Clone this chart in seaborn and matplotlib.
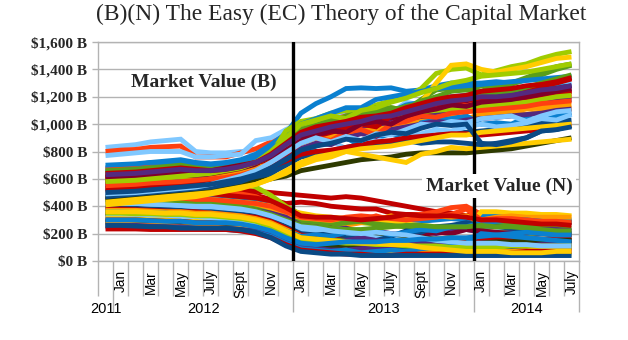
import numpy as np
import pandas as pd
import matplotlib
matplotlib.use('Agg')
import matplotlib.pyplot as plt
import seaborn as sns
from matplotlib.transforms import blended_transform_factory

# ---------------- categories ----------------
month_labels = ['', 'Jan', '', 'Mar', '', 'May', '', 'July', '', 'Sept', '', 'Nov', '',
                'Jan', '', 'Mar', '', 'May', '', 'July', '', 'Sept', '', 'Nov', '',
                'Jan', '', 'Mar', '', 'May', '', 'July']
year_labels = ['2011', '2012', '2013', '2014']
year_months = [1, 12, 12, 7]
y_ticks = [0, 200, 400, 600, 800, 1000, 1200, 1400, 1600]
y_tick_labels = ['$0 B', '$200 B', '$400 B', '$600 B', '$800 B', '$1,000 B',
                 '$1,200 B', '$1,400 B', '$1,600 B']
title = '(B)(N) The Easy (EC) Theory of the Capital Market'
label_b = 'Market Value (B)'
label_n = 'Market Value (N)'

# ---------------- Market Value (B) series ($ billions) ----------------
B01 = [830, 840, 850, 870, 880, 890, 800, 790, 790, 800, 800, 850, 880, 960, 1010, 990, 1060, 1040, 1100, 1080, 1160, 1140, 1200, 1190, 1210, 1190, 1210, 1230, 1240, 1260, 1280, 1290]
B02 = [800, 810, 815, 830, 835, 840, 760, 760, 760, 790, 820, 870, 920, 990, 1000, 1020, 1040, 1010, 1060, 1080, 1100, 1120, 1110, 1130, 1140, 1150, 1160, 1170, 1190, 1200, 1210, 1220]
B03 = [770, 780, 790, 800, 800, 800, 760, 760, 770, 780, 880, 900, 960, 1010, 1030, 1050, 1070, 1060, 1080, 1090, 1130, 1150, 1160, 1180, 1190, 1200, 1220, 1240, 1250, 1270, 1280, 1300]
B04 = [680, 690, 700, 720, 730, 740, 720, 710, 720, 740, 780, 850, 930, 1080, 1150, 1200, 1260, 1265, 1260, 1265, 1240, 1250, 1280, 1300, 1300, 1300, 1310, 1300, 1320, 1330, 1320, 1340]
B05 = [670, 675, 680, 690, 700, 700, 690, 680, 690, 700, 740, 800, 880, 980, 1000, 1030, 1060, 1080, 1100, 1100, 1050, 1100, 1120, 1150, 1150, 1140, 1150, 1170, 1180, 1170, 1190, 1200]
B06 = [650, 660, 670, 680, 690, 690, 660, 650, 660, 670, 700, 760, 850, 940, 970, 1000, 1030, 1010, 1060, 1090, 1140, 1160, 1180, 1200, 1210, 1220, 1230, 1230, 1250, 1260, 1270, 1280]
B07 = [640, 650, 650, 660, 670, 680, 650, 640, 640, 650, 680, 720, 800, 900, 960, 1010, 1000, 1080, 1060, 1120, 1100, 1180, 1250, 1260, 1250, 1240, 1280, 1290, 1330, 1360, 1400, 1430]
B08 = [590, 595, 600, 600, 600, 600, 600, 600, 590, 600, 650, 780, 950, 1020, 1040, 1080, 1100, 1090, 1140, 1170, 1200, 1260, 1370, 1400, 1410, 1360, 1390, 1420, 1440, 1480, 1510, 1530]
B09 = [620, 630, 640, 640, 650, 650, 640, 630, 630, 640, 660, 700, 760, 850, 900, 950, 1000, 1020, 1050, 1060, 1100, 1160, 1300, 1430, 1440, 1400, 1380, 1400, 1420, 1450, 1480, 1490]
B10 = [610, 620, 625, 630, 640, 640, 620, 610, 620, 640, 670, 720, 810, 920, 960, 1000, 1060, 1080, 1120, 1120, 1100, 1170, 1200, 1240, 1250, 1280, 1290, 1300, 1340, 1380, 1420, 1440]
B11 = [600, 605, 610, 620, 625, 630, 620, 615, 620, 640, 680, 740, 820, 900, 950, 930, 1000, 1050, 1020, 1070, 1040, 1110, 1150, 1180, 1170, 1200, 1210, 1200, 1230, 1250, 1260, 1280]
B12 = [580, 585, 590, 600, 610, 620, 620, 630, 650, 670, 700, 760, 840, 880, 930, 960, 940, 1010, 990, 1040, 1080, 1060, 1110, 1130, 1100, 1150, 1180, 1160, 1200, 1190, 1230, 1250]
B13 = [570, 575, 580, 580, 585, 590, 590, 600, 620, 640, 660, 700, 760, 840, 870, 900, 940, 960, 980, 1000, 1030, 1060, 1080, 1100, 1100, 1120, 1140, 1160, 1170, 1190, 1220, 1240]
B14 = [560, 565, 570, 575, 580, 585, 590, 600, 610, 620, 650, 700, 780, 860, 900, 920, 960, 950, 1000, 1010, 1000, 1040, 1070, 1080, 1100, 1110, 1120, 1130, 1140, 1160, 1170, 1180]
B15 = [520, 525, 530, 540, 550, 560, 580, 600, 620, 640, 670, 720, 790, 840, 880, 860, 920, 950, 900, 980, 1010, 990, 1050, 1060, 1040, 1070, 1080, 1090, 1110, 1120, 1130, 1140]
B16 = [500, 505, 510, 520, 530, 540, 550, 560, 580, 610, 660, 740, 830, 880, 890, 910, 930, 950, 960, 980, 1000, 1020, 1030, 1040, 1040, 1050, 1060, 1080, 1070, 1090, 1100, 1110]
B17 = [590, 590, 590, 590, 590, 590, 590, 590, 580, 570, 560, 620, 760, 980, 1000, 1020, 1040, 1050, 1060, 1070, 1080, 1090, 1100, 1110, 1120, 1130, 1140, 1150, 1160, 1180, 1200, 1210]
B18 = [540, 545, 550, 560, 570, 580, 570, 570, 580, 600, 620, 660, 720, 790, 840, 880, 900, 840, 900, 930, 890, 1010, 1030, 1040, 1060, 1000, 1010, 1000, 1050, 1020, 1060, 1080]
B19 = [450, 455, 460, 470, 480, 490, 500, 520, 540, 560, 600, 640, 700, 760, 780, 800, 820, 840, 860, 870, 880, 900, 920, 930, 940, 950, 960, 980, 1000, 1010, 1020, 1030]
B20 = [480, 490, 500, 510, 520, 530, 540, 560, 580, 600, 640, 700, 760, 820, 860, 880, 820, 850, 890, 860, 910, 930, 960, 950, 980, 1000, 980, 990, 1010, 1040, 1030, 1070]
B21 = [460, 470, 480, 490, 500, 510, 520, 530, 540, 560, 580, 600, 620, 660, 680, 700, 720, 740, 750, 760, 780, 790, 790, 790, 790, 800, 810, 820, 840, 860, 880, 900]
B22 = [430, 440, 450, 460, 470, 480, 490, 500, 520, 540, 560, 600, 640, 700, 740, 760, 800, 780, 760, 740, 720, 780, 800, 830, 820, 830, 840, 850, 860, 870, 880, 890]
B23 = [470, 480, 490, 500, 510, 520, 530, 540, 560, 580, 620, 660, 700, 770, 800, 790, 830, 850, 840, 860, 880, 860, 870, 870, 860, 850, 860, 880, 900, 950, 960, 990]
B24 = [510, 515, 520, 530, 540, 550, 560, 570, 590, 610, 640, 700, 760, 820, 860, 850, 900, 930, 910, 960, 980, 1000, 1020, 1010, 1030, 1040, 1050, 1060, 1070, 1080, 1100, 1110]
B25 = [530, 535, 540, 545, 550, 555, 560, 580, 600, 620, 650, 690, 730, 780, 800, 810, 830, 850, 870, 880, 900, 910, 920, 930, 930, 920, 930, 940, 950, 960, 980, 1000]
B26 = [620, 620, 630, 640, 640, 650, 650, 660, 680, 700, 720, 740, 780, 860, 910, 940, 970, 1000, 980, 1060, 1090, 1100, 1150, 1140, 1180, 1180, 1200, 1220, 1250, 1280, 1300, 1330]
B27 = [700, 705, 710, 720, 720, 720, 700, 690, 700, 710, 760, 820, 880, 1000, 1040, 1080, 1120, 1120, 1180, 1200, 1220, 1240, 1260, 1270, 1280, 1290, 1300, 1310, 1320, 1330, 1340, 1350]
B28 = [660, 665, 670, 680, 690, 700, 680, 670, 680, 700, 720, 760, 860, 960, 990, 1030, 1050, 1060, 1090, 1100, 1130, 1150, 1170, 1190, 1200, 1220, 1230, 1240, 1270, 1300, 1330, 1360]
B29 = [550, 555, 560, 570, 575, 580, 590, 600, 610, 630, 660, 720, 800, 870, 900, 880, 940, 960, 920, 1000, 1020, 1060, 1050, 1080, 1090, 1100, 1110, 1120, 1130, 1150, 1160, 1170]
B30 = [610, 615, 620, 630, 640, 650, 650, 660, 680, 700, 720, 760, 810, 880, 920, 950, 940, 1000, 1020, 1000, 1060, 1090, 1110, 1140, 1130, 1160, 1170, 1180, 1200, 1220, 1240, 1260]
B31 = [490, 495, 500, 510, 520, 530, 540, 560, 590, 620, 660, 720, 790, 860, 900, 870, 910, 880, 930, 920, 960, 1000, 990, 1020, 1010, 1040, 1050, 1060, 1020, 1060, 1090, 1100]
B32 = [410, 420, 430, 440, 450, 460, 470, 490, 510, 530, 560, 600, 660, 720, 760, 780, 800, 820, 830, 840, 860, 880, 900, 920, 920, 940, 950, 960, 970, 980, 990, 1000]
B33 = [500, 505, 510, 520, 530, 540, 550, 560, 580, 600, 630, 680, 740, 810, 840, 860, 890, 880, 920, 940, 930, 970, 1000, 990, 1000, 860, 850, 870, 900, 950, 960, 980]
B34 = [580, 585, 590, 600, 610, 620, 630, 640, 660, 680, 720, 800, 900, 1000, 1030, 1060, 1040, 1100, 1120, 1160, 1190, 1230, 1260, 1300, 1320, 1350, 1360, 1370, 1380, 1400, 1420, 1440]
B35 = [640, 645, 650, 660, 670, 680, 670, 660, 670, 690, 720, 780, 860, 940, 980, 1000, 1020, 1050, 1060, 1080, 1120, 1150, 1180, 1200, 1210, 1240, 1250, 1260, 1280, 1290, 1310, 1340]
B36 = [630, 635, 640, 650, 660, 670, 660, 660, 670, 690, 720, 770, 850, 920, 950, 980, 1000, 1020, 1050, 1060, 1090, 1120, 1150, 1170, 1180, 1200, 1200, 1210, 1230, 1250, 1260, 1280]

# ---------------- Market Value (N) series ($ billions) ----------------
N01 = [550, 550, 545, 540, 540, 535, 530, 530, 520, 520, 510, 500, 490, 480, 470, 460, 470, 460, 440, 420, 400, 380, 360, 350, 330, 350, 340, 330, 320, 300, 290, 280]
N02 = [540, 540, 535, 530, 530, 520, 520, 510, 510, 500, 480, 450, 420, 430, 420, 400, 390, 380, 380, 350, 340, 340, 330, 320, 300, 320, 330, 320, 310, 300, 290, 280]
N03 = [520, 520, 520, 515, 515, 510, 510, 500, 500, 490, 470, 420, 340, 320, 300, 290, 310, 300, 330, 300, 330, 340, 360, 390, 400, 340, 330, 320, 310, 300, 300, 290]
N04 = [590, 590, 590, 590, 590, 590, 590, 590, 580, 570, 540, 480, 400, 340, 320, 300, 290, 280, 270, 260, 250, 240, 240, 230, 230, 220, 210, 210, 200, 200, 190, 190]
N05 = [500, 500, 495, 490, 490, 480, 480, 470, 460, 450, 430, 400, 350, 320, 300, 310, 290, 300, 270, 280, 300, 290, 300, 310, 300, 330, 340, 340, 330, 310, 300, 300]
N06 = [480, 480, 475, 470, 470, 460, 460, 450, 440, 430, 420, 400, 370, 350, 330, 320, 310, 300, 280, 290, 270, 260, 250, 240, 230, 360, 360, 350, 350, 340, 340, 330]
N07 = [460, 460, 455, 450, 450, 440, 430, 420, 420, 410, 400, 380, 340, 300, 280, 290, 260, 280, 300, 330, 300, 320, 330, 320, 330, 300, 320, 330, 320, 320, 320, 320]
N08 = [450, 450, 450, 445, 440, 440, 430, 420, 410, 400, 380, 350, 310, 280, 270, 260, 280, 290, 270, 260, 250, 250, 240, 240, 230, 250, 260, 270, 260, 250, 240, 240]
N09 = [430, 430, 425, 420, 420, 410, 400, 400, 390, 380, 370, 350, 320, 260, 250, 230, 240, 210, 220, 200, 190, 210, 200, 220, 230, 210, 200, 210, 220, 230, 230, 220]
N10 = [420, 420, 415, 410, 410, 400, 400, 390, 380, 370, 360, 330, 290, 250, 230, 240, 210, 200, 180, 190, 170, 190, 210, 200, 230, 220, 210, 200, 210, 200, 190, 190]
N11 = [410, 410, 405, 400, 400, 390, 390, 380, 370, 360, 350, 320, 280, 220, 210, 200, 200, 190, 180, 170, 180, 170, 160, 160, 150, 150, 150, 140, 140, 130, 130, 130]
N12 = [400, 400, 400, 395, 390, 390, 380, 370, 360, 350, 340, 320, 280, 230, 220, 200, 190, 180, 170, 160, 150, 130, 120, 110, 100, 90, 80, 80, 70, 70, 60, 60]
N13 = [390, 390, 385, 380, 380, 370, 360, 360, 350, 340, 330, 300, 250, 200, 190, 200, 170, 160, 150, 180, 220, 210, 250, 260, 280, 260, 250, 240, 230, 220, 210, 200]
N14 = [380, 380, 375, 370, 365, 360, 360, 350, 340, 330, 320, 290, 240, 190, 180, 160, 150, 140, 130, 120, 110, 110, 100, 100, 100, 110, 110, 100, 100, 100, 110, 100]
N15 = [370, 370, 370, 365, 360, 360, 350, 350, 340, 330, 310, 280, 230, 180, 160, 150, 140, 130, 130, 120, 120, 110, 110, 110, 110, 110, 110, 120, 120, 120, 110, 110]
N16 = [360, 360, 355, 350, 350, 340, 340, 330, 320, 310, 290, 260, 220, 180, 190, 180, 210, 200, 220, 190, 210, 230, 220, 250, 250, 280, 290, 300, 300, 290, 280, 280]
N17 = [350, 350, 345, 340, 340, 330, 330, 320, 310, 300, 280, 250, 210, 170, 160, 150, 150, 140, 140, 130, 140, 150, 160, 170, 160, 160, 170, 170, 160, 160, 150, 150]
N18 = [340, 340, 340, 335, 330, 330, 320, 320, 310, 300, 280, 250, 200, 150, 160, 130, 150, 170, 150, 140, 130, 150, 160, 150, 150, 160, 170, 180, 170, 160, 150, 150]
N19 = [330, 330, 325, 320, 320, 310, 310, 300, 290, 280, 260, 230, 180, 130, 120, 100, 90, 80, 80, 70, 80, 90, 100, 120, 140, 140, 130, 130, 120, 120, 110, 110]
N20 = [320, 320, 320, 315, 310, 310, 300, 300, 290, 280, 260, 220, 160, 110, 100, 90, 80, 70, 70, 60, 50, 50, 40, 40, 40, 40, 40, 50, 50, 50, 40, 40]
N21 = [310, 310, 305, 300, 300, 290, 290, 280, 270, 260, 240, 200, 140, 90, 80, 70, 60, 50, 50, 50, 60, 70, 60, 50, 50, 50, 60, 60, 60, 60, 60, 50]
N22 = [300, 300, 300, 295, 290, 290, 280, 280, 270, 260, 240, 210, 160, 120, 100, 110, 90, 80, 100, 90, 110, 120, 140, 130, 150, 170, 170, 160, 160, 150, 160, 170]
N23 = [290, 290, 285, 280, 280, 270, 270, 260, 250, 250, 230, 200, 160, 120, 110, 100, 100, 90, 90, 80, 80, 70, 70, 70, 70, 80, 80, 90, 90, 100, 100, 100]
N24 = [280, 280, 280, 275, 270, 270, 260, 260, 250, 250, 240, 210, 170, 130, 120, 110, 110, 120, 130, 130, 130, 120, 120, 130, 130, 130, 140, 140, 150, 150, 150, 150]
N25 = [270, 270, 265, 260, 260, 250, 250, 250, 240, 240, 230, 200, 150, 100, 90, 70, 80, 60, 50, 70, 60, 80, 70, 90, 80, 70, 70, 70, 80, 80, 90, 90]
N26 = [260, 260, 260, 255, 250, 250, 240, 240, 240, 230, 220, 190, 140, 100, 90, 80, 80, 90, 100, 110, 120, 130, 130, 120, 120, 120, 120, 110, 110, 120, 120, 120]
N27 = [250, 250, 250, 245, 240, 240, 240, 230, 230, 220, 210, 180, 130, 90, 80, 70, 80, 60, 70, 80, 70, 90, 100, 110, 130, 200, 190, 180, 170, 160, 150, 140]
N28 = [234, 234, 234, 230, 230, 230, 230, 230, 230, 220, 200, 170, 120, 80, 70, 60, 50, 50, 40, 40, 50, 50, 50, 60, 60, 60, 60, 60, 70, 70, 70, 70]
N29 = [260, 260, 255, 250, 250, 240, 240, 240, 240, 230, 210, 170, 110, 70, 60, 50, 50, 40, 40, 40, 40, 40, 40, 40, 40, 40, 40, 40, 40, 40, 40, 40]
N30 = [440, 440, 435, 430, 430, 420, 410, 410, 400, 390, 370, 340, 300, 260, 250, 240, 230, 230, 240, 250, 260, 260, 250, 250, 250, 260, 250, 250, 240, 230, 220, 220]
N31 = [350, 350, 345, 345, 340, 340, 330, 330, 320, 310, 290, 250, 200, 160, 150, 140, 130, 130, 120, 120, 110, 110, 110, 100, 100, 100, 100, 110, 110, 110, 110, 110]
N32 = [470, 470, 470, 465, 460, 460, 450, 450, 440, 430, 420, 400, 360, 320, 310, 300, 320, 330, 320, 310, 300, 310, 320, 340, 380, 300, 310, 310, 300, 290, 290, 280]
N33 = [500, 500, 500, 500, 500, 500, 500, 490, 480, 470, 460, 440, 390, 330, 320, 320, 310, 300, 310, 320, 340, 330, 330, 330, 320, 300, 300, 290, 280, 270, 270, 260]
N34 = [420, 420, 420, 415, 410, 405, 400, 400, 390, 380, 360, 330, 290, 250, 240, 220, 210, 200, 210, 200, 190, 170, 150, 140, 130, 130, 130, 120, 120, 110, 110, 110]
N35 = [360, 360, 360, 355, 350, 350, 340, 340, 330, 320, 300, 270, 220, 170, 160, 150, 140, 130, 130, 120, 120, 100, 90, 80, 70, 70, 70, 60, 60, 60, 70, 70]
N36 = [300, 300, 300, 295, 290, 290, 280, 280, 280, 270, 250, 220, 170, 130, 120, 130, 140, 140, 140, 150, 150, 160, 160, 170, 170, 180, 190, 200, 210, 200, 190, 190]

# ---------------- colours ----------------
C = {'darkred': '#C00000', 'orangered': '#FF4010', 'orange': '#FF9900',
     'gold': '#FFCC00', 'lime': '#A0CC00', 'green': '#5A9E1A',
     'olive': '#2E3A00', 'lightblue': '#80C8FF', 'blue': '#0A80D0',
     'navy': '#0A4A85', 'purple': '#54297F', 'maroon': '#80002A'}

b_colors = ['lightblue', 'orangered', 'lightblue', 'blue', 'orangered', 'blue', 'green', 'lime',
            'gold', 'green', 'maroon', 'maroon', 'darkred', 'purple', 'orange', 'orange', 'lime',
            'blue', 'navy', 'lightblue', 'olive', 'gold', 'navy', 'purple', 'darkred', 'darkred',
            'blue', 'green', 'orangered', 'maroon', 'lightblue', 'gold', 'navy', 'lime',
            'darkred', 'purple']
n_colors = ['darkred', 'darkred', 'orangered', 'lime', 'blue', 'gold', 'orange', 'green',
            'purple', 'maroon', 'olive', 'lightblue', 'navy', 'darkred', 'orange', 'blue',
            'green', 'purple', 'maroon', 'lightblue', 'gold', 'darkred', 'navy', 'olive',
            'orange', 'purple', 'blue', 'darkred', 'navy', 'green', 'lime', 'orangered',
            'darkred', 'lightblue', 'gold', 'blue']

b_series = [B01, B02, B03, B04, B05, B06, B07, B08, B09, B10, B11, B12, B13, B14, B15, B16, B17, B18,
            B19, B20, B21, B22, B23, B24, B25, B26, B27, B28, B29, B30, B31, B32, B33, B34, B35, B36]
n_series = [N01, N02, N03, N04, N05, N06, N07, N08, N09, N10, N11, N12, N13, N14, N15, N16, N17, N18,
            N19, N20, N21, N22, N23, N24, N25, N26, N27, N28, N29, N30, N31, N32, N33, N34, N35, N36]

n_months = len(month_labels)
bad = []
for tag, group in (('B', b_series), ('N', n_series)):
    for k, s in enumerate(group):
        if len(s) != n_months:
            bad.append(f'{tag}{k+1:02d}:{len(s)}')
if bad:
    raise ValueError('bad lengths ' + ', '.join(bad))

rows = []
palette = {}
order = []
for i, (s, c) in enumerate(zip(n_series, n_colors)):
    name = f'N{i+1:02d}'
    order.append(name)
    palette[name] = C[c]
    for m, v in enumerate(s):
        rows.append((name, m, v))
for i, (s, c) in enumerate(zip(b_series, b_colors)):
    name = f'B{i+1:02d}'
    order.append(name)
    palette[name] = C[c]
    for m, v in enumerate(s):
        rows.append((name, m, v))
df = pd.DataFrame(rows, columns=['series', 'month', 'value'])

# ---------------- figure ----------------
sns.set_style('white')
W, H = 628, 340
fig = plt.figure(figsize=(W / 100, H / 100), dpi=100)
ax_l, ax_r, ax_t, ax_b = 98, 579, 42, 261
ax = fig.add_axes([ax_l / W, 1 - ax_b / H, (ax_r - ax_l) / W, (ax_b - ax_t) / H])

sns.lineplot(data=df, x='month', y='value', hue='series', hue_order=order,
             palette=palette, legend=False, linewidth=3.5, estimator=None,
             sort=False, ax=ax)
for ln in ax.get_lines():
    ln.set_solid_joinstyle('miter')
    ln.set_solid_capstyle('butt')

grid_c = '#B3B3B3'
ax.set_xlim(-0.5, n_months - 0.5)
ax.set_ylim(0, 1600)
ax.set_yticks(y_ticks)
ax.set_yticklabels(y_tick_labels, fontfamily='Liberation Serif', fontweight='bold', fontsize=11)
ax.yaxis.grid(True, color=grid_c, linewidth=1)
ax.set_axisbelow(True)
ax.tick_params(axis='y', length=4.5, width=1, color=grid_c, pad=3.5, left=True)
for sp in ['left', 'right', 'bottom', 'top']:
    ax.spines[sp].set_color(grid_c)
    ax.spines[sp].set_linewidth(1)
ax.set_xlabel('')
ax.set_ylabel('')

# x ticks: month boundaries (short) and year boundaries (long)
bounds = [i - 0.5 for i in range(n_months + 1)]
year_bounds = []
acc = 0
for n in year_months:
    acc += n
    year_bounds.append(acc - 0.5)
ax.set_xticks(year_bounds)
ax.set_xticklabels([''] * len(year_bounds))
ax.set_xticks([b for b in bounds if b not in year_bounds], minor=True)
ax.tick_params(axis='x', which='major', length=37, width=1, color=grid_c, bottom=True)
ax.tick_params(axis='x', which='minor', length=25.5, width=1, color=grid_c, bottom=True)

trans = blended_transform_factory(ax.transData, ax.transAxes)
ph = ax_b - ax_t
for m, lab in enumerate(month_labels):
    if lab:
        ax.text(m, -9 / ph, lab, transform=trans, rotation=90, ha='center', va='top',
                fontsize=9.8, fontfamily='Liberation Sans', color='black')
start = -0.5
for lab, n in zip(year_labels, year_months):
    ax.text(start + n / 2, -48 / ph, lab, transform=trans, ha='center', va='center',
            fontsize=10.5, fontfamily='Liberation Sans', color='black')
    start += n

# year divider lines inside the plot
ax.axvline(year_bounds[1], color='black', linewidth=2.4, zorder=10)
ax.axvline(year_bounds[2], color='black', linewidth=2.4, zorder=10)

fig.text(341 / W, 1 - 14 / H, title, ha='center', va='center',
         fontfamily='Liberation Serif', fontsize=16.9)
fig.text(204 / W, 1 - 82 / H, label_b, ha='center', va='center',
         fontfamily='Liberation Serif', fontweight='bold', fontsize=14, zorder=20)
fig.text(499 / W, 1 - 186 / H, label_n, ha='center', va='center',
         fontfamily='Liberation Serif', fontweight='bold', fontsize=14, zorder=20,
         bbox=dict(facecolor='white', edgecolor='none', pad=2.5))

fig.savefig('out.png', dpi=100)
